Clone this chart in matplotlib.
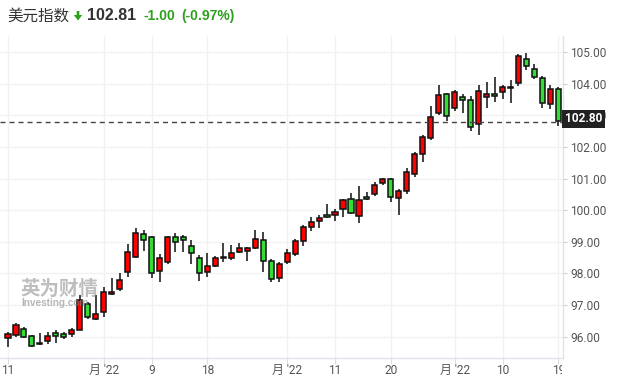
import matplotlib
matplotlib.use("Agg")
import matplotlib.pyplot as plt
import numpy as np
from matplotlib.patches import Polygon
from matplotlib.transforms import Bbox, TransformedBbox

plt.rcParams['font.family'] = ['Roboto', 'Noto Sans CJK SC', 'DejaVu Sans']

# daily candles, 11 Feb - 19 May 2022
opens = [95.94, 96.04, 96.23, 96.01, 95.75, 95.86, 96.10, 96.07, 96.07, 96.22,
         97.02, 96.54, 96.76, 97.35, 97.49, 98.05, 98.53, 99.23, 99.14, 98.08,
         98.36, 99.14, 99.14, 98.87, 98.50, 98.03, 98.24, 98.49, 98.47, 98.66,
         98.72, 98.81, 99.07, 98.38, 97.84, 98.35, 98.60, 99.02, 99.48, 99.66,
         99.83, 99.86, 100.05, 100.34, 99.80, 100.43, 100.52, 100.85, 100.97, 100.37,
         100.62, 101.13, 101.76, 102.28, 103.06, 103.66, 103.22, 103.59, 103.47, 102.72,
         103.57, 103.66, 103.74, 103.91, 104.03, 104.77, 104.46, 104.17, 103.35, 103.82]
closes = [96.07, 96.38, 95.99, 95.71, 95.81, 96.03, 96.02, 95.99, 96.20, 97.14,
          96.62, 96.70, 97.40, 97.41, 97.78, 98.66, 99.29, 99.07, 98.00, 98.50,
          99.14, 99.00, 99.07, 98.63, 98.00, 98.22, 98.50, 98.51, 98.63, 98.79,
          98.80, 99.10, 98.40, 97.81, 98.31, 98.63, 99.02, 99.48, 99.62, 99.75,
          99.77, 99.94, 100.31, 99.90, 100.31, 100.34, 100.79, 100.97, 100.40, 100.59,
          101.22, 101.76, 102.30, 102.95, 103.63, 102.97, 103.75, 103.47, 102.62, 103.76,
          103.66, 103.61, 103.91, 103.85, 104.87, 104.57, 104.20, 103.38, 103.82, 102.81]
highs = [96.15, 96.43, 96.29, 96.04, 96.10, 96.15, 96.20, 96.15, 96.26, 97.31,
         97.10, 97.31, 97.57, 97.84, 98.00, 98.92, 99.42, 99.38, 99.18, 98.61,
         99.19, 99.29, 99.21, 99.07, 98.58, 98.63, 98.55, 98.95, 98.89, 98.95,
         98.84, 99.37, 99.30, 98.44, 98.36, 98.77, 99.08, 99.53, 99.78, 99.83,
         100.19, 100.05, 100.35, 100.53, 100.76, 100.56, 100.89, 101.03, 101.03, 100.66,
         101.32, 101.85, 102.37, 103.29, 103.96, 103.71, 103.80, 103.66, 103.62, 103.96,
         104.06, 104.20, 103.96, 104.11, 104.93, 104.98, 104.62, 104.24, 103.95, 103.89]
lows = [95.67, 95.97, 95.94, 95.67, 95.73, 95.76, 95.78, 95.91, 95.99, 96.20,
        96.57, 96.52, 96.62, 97.31, 97.45, 97.87, 98.50, 98.72, 97.86, 97.71,
        98.29, 98.68, 98.66, 98.31, 97.75, 97.87, 98.21, 98.35, 98.42, 98.63,
        98.40, 98.78, 98.05, 97.71, 97.71, 98.31, 98.55, 98.85, 99.33, 99.42,
        99.75, 99.65, 99.78, 99.87, 99.58, 100.32, 100.44, 100.80, 100.25, 99.83,
        100.50, 101.05, 101.53, 102.22, 103.01, 102.82, 103.13, 103.06, 102.51, 102.37,
        103.22, 103.41, 103.53, 103.38, 103.92, 104.44, 104.15, 103.24, 103.20, 102.66]

tick_idx = [0, 12, 18, 25, 35, 41, 48, 56, 62, 69]
tick_labels = ["11", "月 '22", "9", "18", "月 '22", "11", "20", "月 '22", "10", "19"]
y_ticks = [96, 97, 98, 99, 100, 101, 102, 103, 104, 105]
last_price = 102.80

title = "美元指数"
quote = "102.81"
change = "-1.00"
change_pct = "(-0.97%)"

W, H = 624, 382
fig = plt.figure(figsize=(W / 100, H / 100), dpi=100)
ax = fig.add_axes([0, 1 - 358 / H, 563 / W, (358 - 36) / H])

o = np.array(opens)
c = np.array(closes)
x = np.arange(len(o))
up = c >= o
colors = np.where(up, '#ff0000', '#33dd33')
bottom = np.minimum(o, c)
height = np.maximum(np.abs(c - o), 0.015)

ax.vlines(x, lows, highs, color='#222222', lw=1.2, zorder=2)
ax.bar(x, height, bottom=bottom, width=0.64, color=colors,
       edgecolor='#111111', linewidth=1.1, zorder=3)

ax.axhline(last_price, color='#444444', lw=1.0, ls=(0, (3.6, 2.9)), zorder=4)

ax.set_xlim(-1.0, 69.58)
ax.set_ylim(95.32, 105.51)

ax.set_yticks(y_ticks)
ax.set_yticklabels([f"{v:.2f}" for v in y_ticks])
ax.yaxis.tick_right()
ax.tick_params(axis='y', length=3, width=0.8, color='#cccccc', pad=2,
               labelsize=8.6, labelcolor='#555555')
ax.set_xticks(tick_idx)
ax.set_xticklabels([''] * len(tick_idx))
ax.tick_params(axis='x', length=4, width=0.8, color='#dddddd')
ax.grid(True, color='#f2f2f2', lw=1.0, zorder=0)
ax.set_axisbelow(True)

for s in ['top', 'left']:
    ax.spines[s].set_visible(False)
for s in ['right', 'bottom']:
    ax.spines[s].set_color('#e0e3eb')
    ax.spines[s].set_linewidth(1.0)

# x labels are cut at the plot's right edge, as in the source
clip = TransformedBbox(Bbox.from_extents(0, 0, 562 / W, 1), fig.transFigure)
for i, lab in zip(tick_idx, tick_labels):
    t = ax.text(i, -12 / 322, lab, transform=ax.get_xaxis_transform(),
                ha='center', va='center', fontsize=8.6, color='#555555')
    t.set_clip_box(clip)
    t.set_clip_on(True)

ax.annotate(f"{last_price:.2f}", xy=(1, last_price), xycoords=ax.get_yaxis_transform(),
            xytext=(1.5, 1.9), textcoords='offset points', ha='left', va='center',
            color='white', fontsize=8.6, fontweight='bold', annotation_clip=False,
            bbox=dict(boxstyle='square,pad=0.25', fc='#222222', ec='none'), zorder=10)

# watermark
fig.text(20 / W, 1 - 289 / H, "英为财情", fontsize=14, fontweight='bold',
         color='#8a8a8a', alpha=0.55, va='center', ha='left',
         family=['Noto Sans CJK SC'])
fig.text(21 / W, 1 - 303 / H, "Investing.com", fontsize=7.2, fontweight='bold',
         color='#888888', alpha=0.6, va='center', family=['Liberation Sans'])

# header
yh = 1 - 16 / H
fig.text(7 / W, yh, title, fontsize=11.2, color='#333333', va='center',
         family=['Noto Sans CJK SC'])
arrow = [(76.7, 11), (79.3, 11), (79.3, 15), (82.2, 15), (78, 20.5), (73.8, 15), (76.7, 15)]
fig.patches.append(Polygon([(px / W, 1 - py / H) for px, py in arrow], closed=True,
                           fc='#2da01d', ec='none', transform=fig.transFigure, figure=fig))
fig.text(87 / W, yh, quote, fontsize=11.5, fontweight='bold', color='#333333',
         va='center', family=['Liberation Sans'])
fig.text(144 / W, yh, change, fontsize=10, fontweight='bold', color='#2da01d',
         va='center', family=['Liberation Sans'])
fig.text(181 / W, yh, change_pct, fontsize=10, fontweight='bold', color='#2da01d',
         va='center', family=['Liberation Sans'])

fig.savefig('out.png', dpi=100)
